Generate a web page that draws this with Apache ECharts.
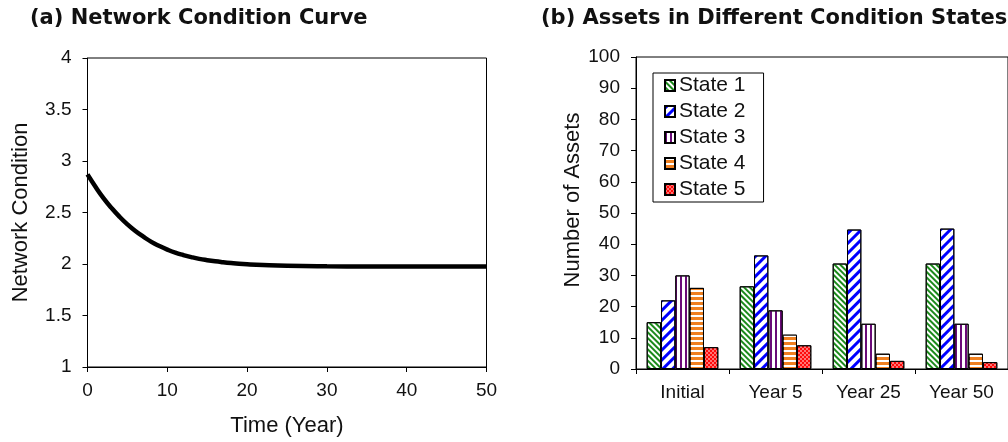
<!DOCTYPE html>
<html>
<head>
<meta charset="utf-8">
<script src="https://cdn.jsdelivr.net/npm/echarts@6/dist/echarts.min.js"></script>
<style>
html,body{margin:0;padding:0;background:#fff;}
#chart{width:1008px;height:442px;}
</style>
</head>
<body>
<div id="chart"></div>
<script>
// ---- Panel (a): network condition curve ----
const years = [0,1,2,3,4,5,6,7,8,9,10,11,12,13,14,15,16,17,18,19,20,22,25,30,35,40,45,50];
const networkCondition = [2.87,2.75,2.64,2.545,2.46,2.385,2.32,2.265,2.215,2.175,2.14,2.11,2.087,2.067,2.05,2.037,2.026,2.017,2.009,2.002,1.997,1.99,1.983,1.978,1.976,1.975,1.975,1.975];

// ---- Panel (b): assets by condition state ----
const categories = ['Initial','Year 5','Year 25','Year 50'];
const stateNames = ['State 1','State 2','State 3','State 4','State 5'];
const state1 = [15, 26.5, 33.8, 33.8];
const state2 = [22, 36.4, 44.7, 45.0];
const state3 = [30, 18.8, 14.5, 14.5];
const state4 = [26, 11.0, 4.9, 4.9];
const state5 = [7, 7.6, 2.6, 2.2];

const FONT = '"Liberation Sans", Arial, sans-serif';
const TXT = '#111';

const chart = echarts.init(document.getElementById('chart'), null, {renderer:'canvas'});

const styles = [
  {color:'#ffffff', decal:{symbol:'rect', symbolSize:1, color:'#1b8a1b', dashArrayX:[1,0], dashArrayY:[2,2], rotation:Math.PI/4}},
  {color:'#ffffff', decal:{symbol:'rect', symbolSize:1, color:'#0000ff', dashArrayX:[1,0], dashArrayY:[3,4], rotation:-Math.PI/4}},
  {color:'#ffffff', decal:{symbol:'rect', symbolSize:1, color:'#6a0a78', dashArrayX:[2,3], dashArrayY:[1,0], rotation:0}},
  {color:'#f08020', decal:{symbol:'rect', symbolSize:1, color:'#ffffff', dashArrayX:[1,0], dashArrayY:[2,3], rotation:0}},
  {color:'#ff0a0a', decal:{symbol:'circle', symbolSize:0.8, color:'#ffffff', dashArrayX:[[2,2],[0,2,2,0]], dashArrayY:[2,0], rotation:0}}
];
const stateData = [state1, state2, state3, state4, state5];

const axisLine = {show:true, lineStyle:{color:'#000', width:1}};
const axisTick = {show:true, length:5, lineStyle:{color:'#000', width:1}};
const tickLabel = {color:TXT, fontFamily:FONT, fontSize:19};

const option = {
  backgroundColor:'#fff',
  animation:false,
  title:[
    {text:'(a) Network Condition Curve', left:30, top:8, padding:0,
     textStyle:{fontFamily:'"DejaVu Sans", sans-serif', fontWeight:'bold', fontSize:21, color:'#111'}},
    {text:'(b) Assets in Different Condition States', left:541, top:8, padding:0,
     textStyle:{fontFamily:'"DejaVu Sans", sans-serif', fontWeight:'bold', fontSize:21, color:'#111'}}
  ],
  grid:[
    {left:87.5, top:58, width:399, height:310.5, show:true, borderColor:'#000', borderWidth:1, backgroundColor:'transparent'},
    {left:636, top:57, width:381, height:312, show:true, borderColor:'#000', borderWidth:1, backgroundColor:'transparent'}
  ],
  legend:{
    data:stateNames, orient:'vertical', left:653, top:73,
    padding:[2,18,2,11], itemGap:5, itemWidth:10, itemHeight:11,
    borderColor:'#000', borderWidth:1, backgroundColor:'#fff', icon:'rect',
    textStyle:{fontFamily:FONT, fontSize:21, color:TXT, padding:[0,0,0,-1]}
  },
  xAxis:[
    {type:'value', gridIndex:0, min:0, max:50, interval:10,
     name:'Time (Year)', nameLocation:'middle', nameGap:48,
     nameTextStyle:{fontFamily:FONT, fontSize:22, color:TXT},
     axisLine, axisTick, axisLabel:{...tickLabel, margin:14}, splitLine:{show:false}},
    {type:'category', gridIndex:1, data:categories,
     axisLine, axisTick:{...axisTick, alignWithLabel:false},
     axisLabel:{...tickLabel, margin:14}, splitLine:{show:false}}
  ],
  yAxis:[
    {type:'value', gridIndex:0, min:1, max:4, interval:0.5,
     name:'Network Condition', nameLocation:'middle', nameGap:56,
     nameTextStyle:{fontFamily:FONT, fontSize:22, color:TXT},
     axisLine, axisTick, axisLabel:{...tickLabel, margin:16}, splitLine:{show:false}},
    {type:'value', gridIndex:1, min:0, max:100, interval:10,
     name:'Number of Assets', nameLocation:'middle', nameGap:50,
     nameTextStyle:{fontFamily:FONT, fontSize:22, color:TXT, padding:[0,0,0,26]},
     axisLine, axisTick, axisLabel:{...tickLabel, margin:16}, splitLine:{show:false}}
  ],
  series:[
    {type:'line', xAxisIndex:0, yAxisIndex:0, smooth:true, showSymbol:false,
     data: years.map((y,i)=>[y, networkCondition[i]]),
     lineStyle:{color:'#000', width:4.5}, itemStyle:{color:'#000'}},
    ...stateNames.map((n,i)=>({
      type:'bar', name:n, xAxisIndex:1, yAxisIndex:1, data:stateData[i],
      barGap:'0%', barCategoryGap:'23%',
      itemStyle:{color:styles[i].color, borderColor:'#000', borderWidth:1, decal:styles[i].decal}
    }))
  ]
};
chart.setOption(option);
</script>
</body>
</html>
